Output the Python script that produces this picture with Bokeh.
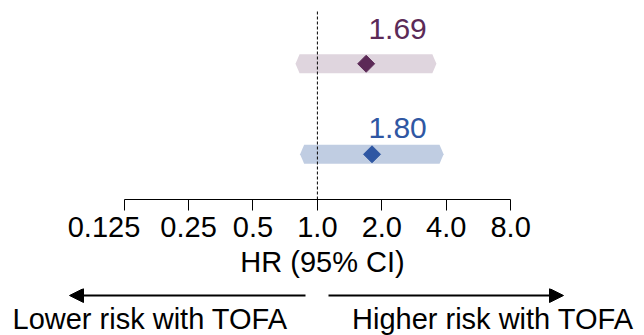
from bokeh.plotting import figure
from bokeh.models import (Range1d, FixedTicker, Arrow, NormalHead, Label,
                          ColumnDataSource)
from bokeh.layouts import column
from bokeh.core.properties import value
from bokeh.embed import file_html
from bokeh.resources import INLINE

# ---------------- data ----------------
rows = [2, 1]                      # top row, bottom row
hr = [1.69, 1.80]
ci_low = [0.79, 0.83]
ci_high = [3.60, 3.89]
hr_labels = ["1.69", "1.80"]
tick_values = [0.125, 0.25, 0.5, 1.0, 2.0, 4.0, 8.0]
tick_labels = ["0.125\u00a0\u00a0\u00a0\u00a0\u00a0", "0.25", "0.5", "1.0", "2.0", "4.0", "8.0"]
axis_title = "HR (95% CI)"
left_note = "Lower risk with TOFA"
right_note = "Higher risk with TOFA"

# ---------------- style ----------------
FONT = "Liberation Sans"
bar_colors = ["#dfd5de", "#c0cde2"]
mark_colors = ["#5c2a57", "#2f57a3"]
label_offsets = [-35, -26]         # px above the row centre
LABEL_X = 2.37
BAR_HALF = 0.105
TIP = 1.045

W = 644
H1 = 288
FRAME_H = 199
H2 = 47

# ---------------- top figure ----------------
y_rng = Range1d(0.5006, 2.699)
p = figure(width=W, height=H1, x_axis_type="log",
           x_range=Range1d(0.03304, 33.78), y_range=y_rng,
           output_backend="svg", toolbar_location=None,
           y_axis_location=None, min_border_left=0, min_border_right=0,
           min_border_top=0, min_border_bottom=H1 - FRAME_H)
p.outline_line_color = None
p.xgrid.visible = False
p.ygrid.visible = False
p.background_fill_color = "white"
p.border_fill_color = "white"

xs, ys = [], []
for y, lo, hi in zip(rows, ci_low, ci_high):
    xs.append([lo, lo * TIP, hi / TIP, hi, hi / TIP, lo * TIP])
    ys.append([y, y + BAR_HALF, y + BAR_HALF, y, y - BAR_HALF, y - BAR_HALF])

p.patches(xs=xs, ys=ys, fill_color=bar_colors, line_color=None)

# reference line at HR = 1
p.segment(x0=[1.0], y0=[y_rng.start], x1=[1.0], y1=[y_rng.end - 0.12],
          line_color="black", line_width=1, line_dash="3 2")

src = ColumnDataSource(dict(x=hr, y=rows, c=mark_colors, lab=hr_labels,
                            lx=[LABEL_X] * len(hr), off=label_offsets))
p.scatter(x="x", y="y", source=src, marker="square", angle=0.785398,
          size=12, fill_color="c", line_color="c")
p.text(x="lx", y="y", text="lab", source=src, y_offset="off",
       text_color="c", text_font=value(FONT), text_font_size="30px",
       text_align="center", text_baseline="alphabetic")

ax = p.xaxis[0]
ax.ticker = FixedTicker(ticks=tick_values)
ax.major_label_overrides = {v: t for v, t in zip(tick_values, tick_labels)}
ax.bounds = (tick_values[0], tick_values[-1])
ax.minor_tick_line_color = None
ax.major_tick_in = 0
ax.major_tick_out = 11
ax.major_tick_line_color = "black"
ax.axis_line_color = "black"
ax.major_label_text_font = FONT
ax.major_label_text_font_size = "29px"
ax.major_label_text_color = "black"
ax.major_label_standoff = 0
ax.axis_label = axis_title
ax.axis_label_text_font = FONT
ax.axis_label_text_font_size = "29px"
ax.axis_label_text_font_style = "normal"
ax.axis_label_text_color = "black"
ax.axis_label_standoff = 0

# ---------------- bottom figure (arrows / notes) ----------------
q = figure(width=W, height=H2, x_range=Range1d(0, W), y_range=Range1d(0, H2),
           output_backend="svg", toolbar_location=None,
           x_axis_location=None, y_axis_location=None,
           min_border=0)
q.outline_line_color = None
q.xgrid.visible = False
q.ygrid.visible = False

q.add_layout(Arrow(end=NormalHead(size=14, fill_color="black", line_color="black"),
                   x_start=305, y_start=40, x_end=69, y_end=40,
                   line_color="black", line_width=2))
q.add_layout(Arrow(end=NormalHead(size=14, fill_color="black", line_color="black"),
                   x_start=328, y_start=40, x_end=563, y_end=40,
                   line_color="black", line_width=2))
q.add_layout(Label(x=12, y=17, text=left_note, text_font=FONT,
                   text_font_size="29px", text_align="left",
                   text_baseline="alphabetic", text_color="black"))
q.add_layout(Label(x=633, y=17, text=right_note, text_font=FONT,
                   text_font_size="29px", text_align="right",
                   text_baseline="alphabetic", text_color="black"))

layout = column(p, q, spacing=0)
open("out.html", "w").write(file_html(layout, INLINE))
